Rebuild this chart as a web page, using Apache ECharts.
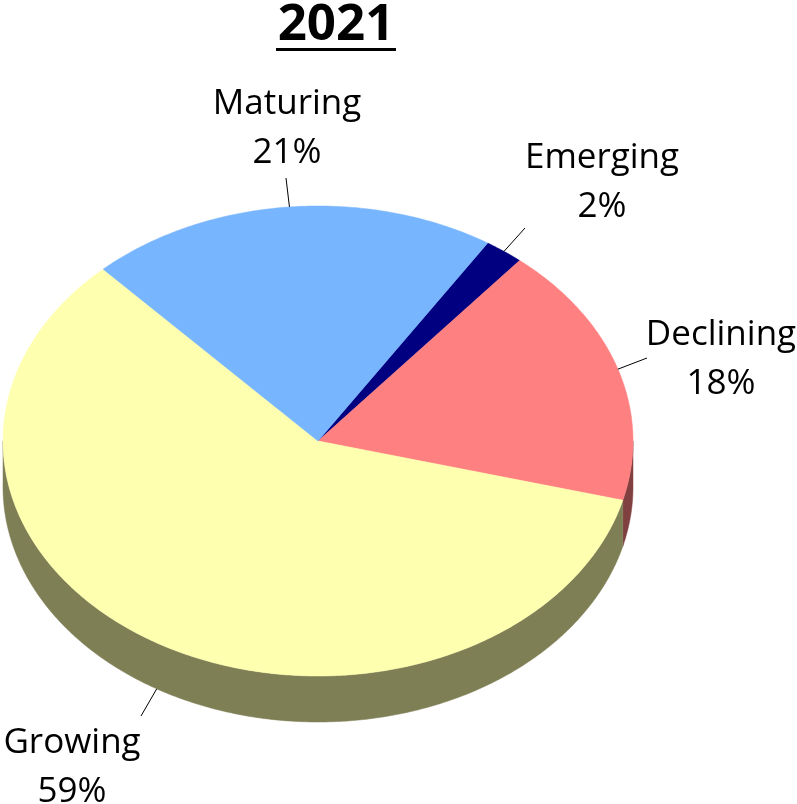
<!DOCTYPE html>
<html>
<head>
<meta charset="utf-8">
<title>2021</title>
<script src="https://cdn.jsdelivr.net/npm/echarts@6/dist/echarts.min.js"></script>
<style>
  html, body { margin: 0; padding: 0; background: #ffffff; }
  #chart { width: 797px; height: 804px; }
</style>
</head>
<body>
<div id="chart"></div>
<script>
// Market stage shares for 2021 (percent), listed clockwise from the first slice
const categories = ['Emerging', 'Declining', 'Growing', 'Maturing'];
const shares = [2, 18, 59, 21];
const chartTitle = '2021';

// Appearance
const topColors = ['#000080', '#ff8080', '#ffffb0', '#77b5fe'];
const sideColors = ['#000040', '#804040', '#7f7f56', '#3c5a7f'];
const FONT = '"Open Sans", "Liberation Sans", sans-serif';

// Tilted pie geometry (ellipse centre, radii, wall depth, first-slice angle)
const CX = 318, CY = 441, RX = 315, RY = 235, DEPTH = 46;
const START = 32.6; // degrees clockwise from 12 o'clock

// Label placement: text block centre and where the leader line meets it
const labelLayout = [
  { x: 602, y: 183, lx: 525, ly: 228 },
  { x: 721, y: 360, lx: 647, ly: 358 },
  { x: 72,  y: 768, lx: 141, ly: 716 },
  { x: 287, y: 129, lx: 286, ly: 178 }
];

const total = shares.reduce((s, v) => s + v, 0);
const bounds = [];
(function () {
  let acc = 0;
  shares.forEach(v => {
    const a1 = START + 360 * acc / total;
    acc += v;
    const a2 = START + 360 * acc / total;
    bounds.push([a1, a2]);
  });
})();

function pt(a, dy) {
  const r = a * Math.PI / 180;
  return [CX + RX * Math.sin(r), CY - RY * Math.cos(r) + (dy || 0)];
}

function arc(a1, a2, dy) {
  const pts = [];
  const n = Math.max(2, Math.ceil(Math.abs(a2 - a1) / 0.5));
  for (let i = 0; i <= n; i++) pts.push(pt(a1 + (a2 - a1) * i / n, dy));
  return pts;
}

// Front-facing wall of each slice (the part between 90 and 270 degrees)
function renderSide(params, api) {
  const i = params.dataIndex;
  const [a1, a2] = bounds[i];
  const children = [];
  [[90, 270], [450, 630]].forEach(([w0, w1]) => {
    const s = Math.max(a1, w0), e = Math.min(a2, w1);
    if (e > s) {
      const pts = arc(s, e, 0).concat(arc(e, s, DEPTH));
      children.push({
        type: 'polygon',
        shape: { points: pts },
        style: { fill: sideColors[i], stroke: sideColors[i], lineWidth: 0.5 }
      });
    }
  });
  return { type: 'group', children };
}

// Top face of each slice
function renderTop(params, api) {
  const i = params.dataIndex;
  const [a1, a2] = bounds[i];
  const pts = [[CX, CY]].concat(arc(a1, a2, 0));
  return {
    type: 'polygon',
    shape: { points: pts },
    style: { fill: topColors[i], stroke: topColors[i], lineWidth: 0.5 }
  };
}

// Category name, percentage and leader line
function renderLabel(params, api) {
  const i = params.dataIndex;
  const [a1, a2] = bounds[i];
  const mid = (a1 + a2) / 2;
  const front = Math.cos(mid * Math.PI / 180) < 0;
  const anchor = pt(mid, front ? DEPTH : 0);
  const L = labelLayout[i];
  const value = api.value(0);
  return {
    type: 'group',
    children: [
      {
        type: 'line',
        shape: { x1: anchor[0], y1: anchor[1], x2: L.lx, y2: L.ly },
        style: { stroke: '#000000', lineWidth: 1 }
      },
      {
        type: 'text',
        style: {
          text: categories[i] + '\n' + Math.round(value) + '%',
          x: L.x, y: L.y,
          align: 'center', verticalAlign: 'middle',
          fill: '#000000',
          fontFamily: FONT, fontSize: 35, lineHeight: 49
        }
      }
    ]
  };
}

const seriesData = shares.map((v, i) => ({ name: categories[i], value: v }));

const chart = echarts.init(document.getElementById('chart'), null, { renderer: 'canvas' });
chart.setOption({
  animation: false,
  backgroundColor: '#ffffff',
  graphic: [
    {
      type: 'text',
      x: 336, y: 25,
      style: {
        text: chartTitle,
        align: 'center', verticalAlign: 'middle',
        fill: '#000000',
        fontFamily: FONT, fontWeight: 'bold', fontSize: 51
      }
    },
    {
      type: 'rect',
      shape: { x: 276, y: 48, width: 120, height: 3 },
      style: { fill: '#000000' }
    }
  ],
  series: [
    { type: 'custom', coordinateSystem: 'none', z: 1, renderItem: renderSide, data: seriesData, silent: true },
    { type: 'custom', coordinateSystem: 'none', z: 2, renderItem: renderTop, data: seriesData, silent: true },
    { type: 'custom', coordinateSystem: 'none', z: 3, renderItem: renderLabel, data: seriesData, silent: true }
  ]
});
</script>
</body>
</html>
